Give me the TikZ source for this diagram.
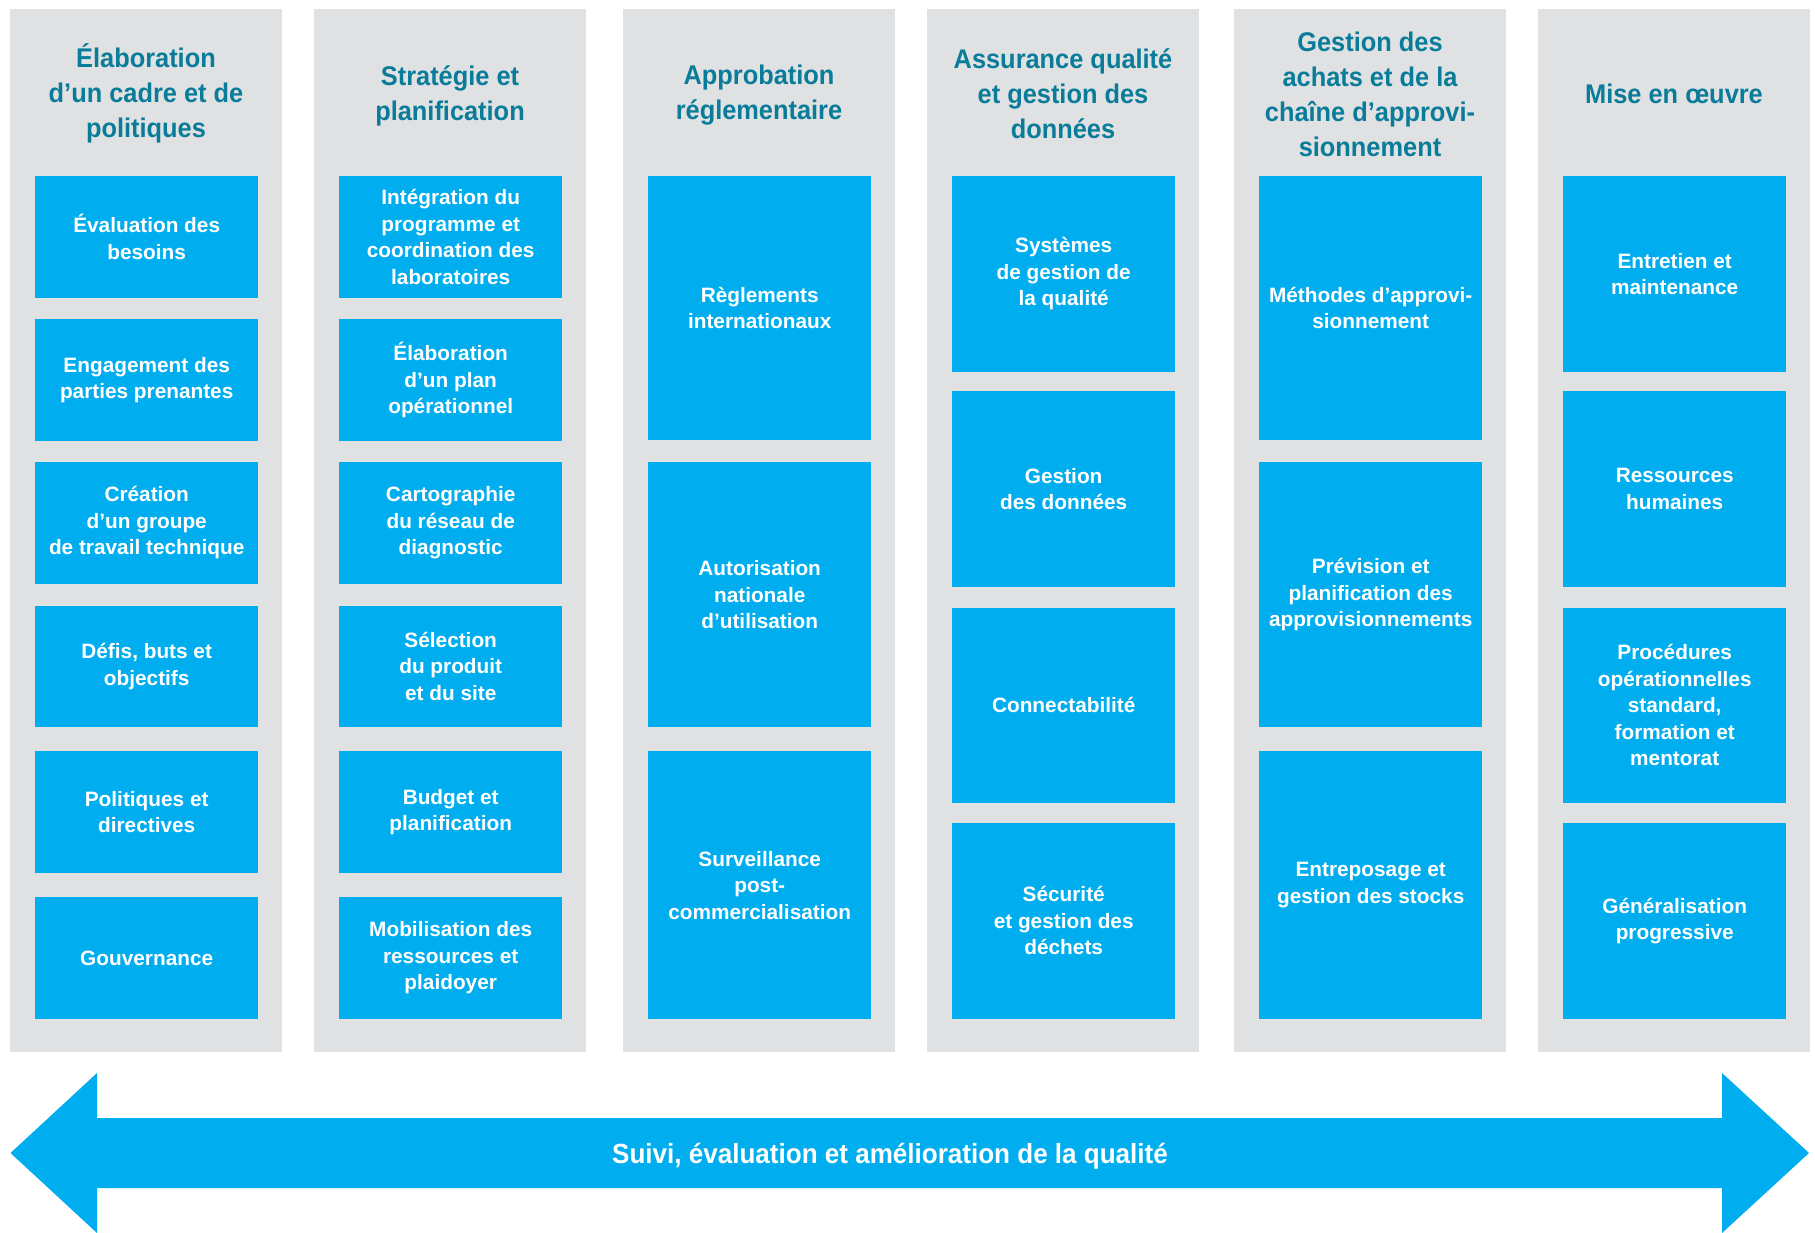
\documentclass[tikz,border=0pt]{standalone}
\usepackage{fontspec}
\setmainfont{Liberation Sans}
\newfontfamily\titlefont[FakeStretch=0.94]{Liberation Sans}
\definecolor{colgray}{RGB}{224,225,227}
\definecolor{boxblue}{RGB}{0,174,239}
\definecolor{titleteal}{RGB}{8,124,153}
\begin{document}
\begin{tikzpicture}[x=1pt,y=-1pt,
  colbg/.style={fill=colgray,draw=none,anchor=north west,inner sep=0pt,minimum width=272pt,minimum height=1043pt},
  coltitle/.style={text=titleteal,align=center,inner sep=0pt,font=\titlefont\fontsize{27}{35}\selectfont\bfseries},
  blbox/.style={fill=boxblue,draw=none,text=white,align=center,inner sep=0pt,anchor=north west,minimum width=223pt,font=\fontsize{20.8}{26.5}\selectfont\bfseries},
  hsix/.style={minimum height=121.5pt},
  hfour/.style={minimum height=195.5pt},
  arrowtext/.style={text=white,inner sep=0pt,font=\titlefont\fontsize{27.7}{33}\selectfont\bfseries}]
\useasboundingbox (0,0) rectangle (1815,1233);
% columns
\node[colbg] (c1) at (10,9) {};
\node[colbg] (c2) at (314,9) {};
\node[colbg] (c3) at (623,9) {};
\node[colbg] (c4) at (927,9) {};
\node[colbg] (c5) at (1234,9) {};
\node[colbg] (c6) at (1538,9) {};
% titles
\node[coltitle] (t1) at (146,93.5) {Élaboration\\d’un cadre et de\\politiques};
\node[coltitle] (t2) at (450,95.5) {Stratégie et\\planification};
\node[coltitle] (t3) at (759,95.5) {Approbation\\réglementaire};
\node[coltitle] (t4) at (1063,93.5) {Assurance qualité\\et gestion des\\données};
\node[coltitle] (t5) at (1370,94.5) {Gestion des\\achats et de la\\chaîne d’approvi-\\sionnement};
\node[coltitle] (t6) at (1674,93.5) {Mise en œuvre};
% column 1
\node[blbox,hsix] (a1) at (35,176) {Évaluation des\\besoins};
\node[blbox,hsix] (a2) at (35,319) {Engagement des\\parties prenantes};
\node[blbox,hsix] (a3) at (35,462) {Création\\d’un groupe\\de travail technique};
\node[blbox,hsix] (a4) at (35,605.5) {Défis, buts et\\objectifs};
\node[blbox,hsix] (a5) at (35,751) {Politiques et\\directives};
\node[blbox,hsix] (a6) at (35,897) {Gouvernance};
% column 2
\node[blbox,hsix] (b1) at (339,176) {Intégration du\\programme et\\coordination des\\laboratoires};
\node[blbox,hsix] (b2) at (339,319) {Élaboration\\d’un plan\\opérationnel};
\node[blbox,hsix] (b3) at (339,462) {Cartographie\\du réseau de\\diagnostic};
\node[blbox,hsix] (b4) at (339,605.5) {Sélection\\du produit\\et du site};
\node[blbox,hsix] (b5) at (339,751) {Budget et\\planification};
\node[blbox,hsix] (b6) at (339,897) {Mobilisation des\\ressources et\\plaidoyer};
% column 3
\node[blbox,minimum height=264pt] (d1) at (648,176) {Règlements\\internationaux};
\node[blbox,minimum height=265pt] (d2) at (648,462) {Autorisation\\nationale\\d’utilisation};
\node[blbox,minimum height=268pt] (d3) at (648,751) {Surveillance\\post-\\commercialisation};
% column 4
\node[blbox,hfour] (e1) at (952,176) {Systèmes\\de gestion de\\la qualité};
\node[blbox,hfour] (e2) at (952,391) {Gestion\\des données};
\node[blbox,hfour] (e3) at (952,607.5) {Connectabilité};
\node[blbox,hfour] (e4) at (952,823) {Sécurité\\et gestion des\\déchets};
% column 5
\node[blbox,minimum height=264pt] (f1) at (1259,176) {Méthodes d’approvi-\\sionnement};
\node[blbox,minimum height=265pt] (f2) at (1259,462) {Prévision et\\planification des\\approvisionnements};
\node[blbox,minimum height=268pt] (f3) at (1259,751) {Entreposage et\\gestion des stocks};
% column 6
\node[blbox,hfour] (g1) at (1563,176) {Entretien et\\maintenance};
\node[blbox,hfour] (g2) at (1563,391) {Ressources\\humaines};
\node[blbox,hfour] (g3) at (1563,607.5) {Procédures\\opérationnelles\\standard,\\formation et\\mentorat};
\node[blbox,hfour] (g4) at (1563,823) {Généralisation\\progressive};
% double arrow
\fill[boxblue] (10.5,1153) -- (97,1073) -- (97,1118) -- (1722,1118) -- (1722,1073)
  -- (1809,1153) -- (1722,1233) -- (1722,1188) -- (97,1188) -- (97,1233) -- cycle;
\node[arrowtext] (arr) at (890,1156.5) {Suivi, évaluation et amélioration de la qualité};
\end{tikzpicture}
\end{document}
